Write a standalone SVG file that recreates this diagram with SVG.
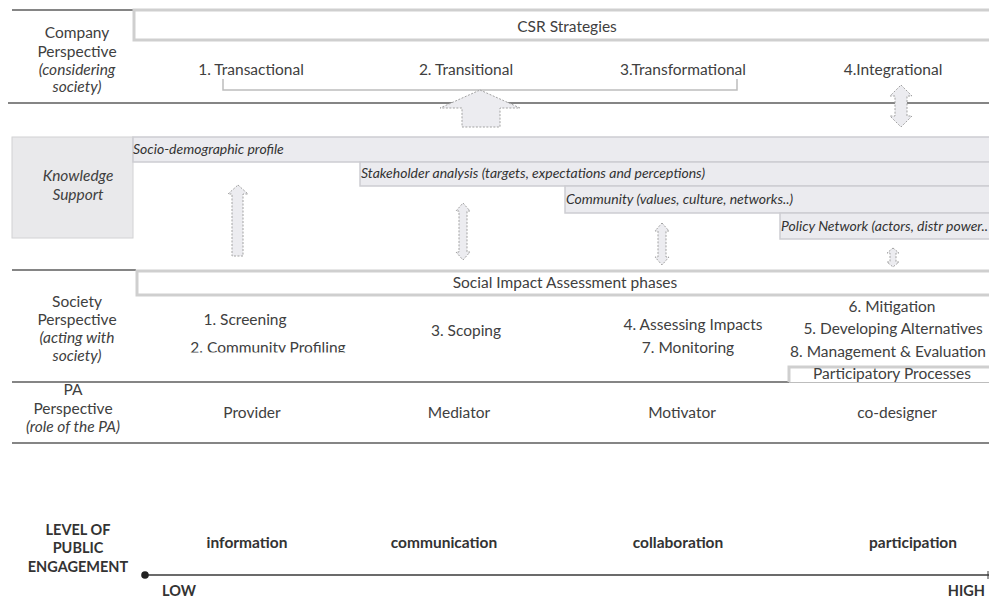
<svg xmlns="http://www.w3.org/2000/svg" width="989" height="598" viewBox="0 0 989 598">
  <style>
    text { font-family: Lato, "Liberation Sans", sans-serif; fill: #404040; }
    .lbl { font-size: 15.5px; text-anchor: middle; }
    .it { font-style: italic; }
    .cell { font-size: 15.5px; text-anchor: middle; }
    .bar-t { font-size: 14px; font-style: italic; fill: #333; }
    .eng { font-size: 15.5px; font-weight: bold; text-anchor: middle; fill: #333; }
    .eng-s { font-size: 14.5px; }
    .rule { stroke: #858585; stroke-width: 2; fill: none; }
    .frame { stroke: #cfcfcf; stroke-width: 3; fill: #fff; }
    .bar { fill: #ebebef; stroke: #cdcdd2; stroke-width: 1.5; }
    .arrow { fill: #ececf0; stroke: #a2a2a2; stroke-width: 1; stroke-dasharray: 2 1.5; }
  </style>
  <defs>
    <clipPath id="clipRow">
      <rect x="0" y="290" width="989" height="62.5"/>
    </clipPath>
  </defs>

  <rect width="989" height="598" fill="#fff"/>

  <!-- row rules -->
  <g id="rules">
    <line class="rule" x1="12" y1="10" x2="133" y2="10"/>
    <line class="rule" x1="8" y1="103" x2="989" y2="103"/>
    <line class="rule" x1="12" y1="270" x2="136" y2="270"/>
    <line class="rule" x1="12" y1="382" x2="789" y2="382"/>
    <line class="rule" x1="12" y1="443" x2="989" y2="443"/>
  </g>

  <!-- Company perspective -->
  <g id="company">
    <text class="lbl" x="77" y="38">Company</text>
    <text class="lbl" x="77" y="57">Perspective</text>
    <text class="lbl it" x="77" y="75">(considering</text>
    <text class="lbl it" x="77" y="92">society)</text>
  </g>

  <g id="csr">
    <path class="frame" d="M991 10 H134 V40 H991"/>
    <text class="cell" x="567" y="32">CSR Strategies</text>
  </g>

  <g id="strategies">
    <text class="cell" x="251" y="75">1. Transactional</text>
    <text class="cell" x="466" y="75">2. Transitional</text>
    <text class="cell" x="683" y="75">3.Transformational</text>
    <text class="cell" x="893" y="75">4.Integrational</text>
    <path d="M223 79 V90 H737 V79" fill="none" stroke="#bdbdbd" stroke-width="1.5"/>
  </g>

  <!-- Knowledge support -->
  <g id="knowledge">
    <rect x="12" y="137" width="121" height="101" fill="#e9e9eb" stroke="#d2d2d4" stroke-width="1"/>
    <text class="lbl it" x="78" y="181">Knowledge</text>
    <text class="lbl it" x="78" y="200">Support</text>
  </g>

  <g id="bars">
    <rect class="bar" x="133" y="137" width="860" height="25"/>
    <text class="bar-t" x="133" y="154">Socio-demographic profile</text>
    <rect class="bar" x="360" y="162" width="633" height="24"/>
    <text class="bar-t" x="361" y="178">Stakeholder analysis (targets, expectations and perceptions)</text>
    <rect class="bar" x="565" y="186" width="428" height="27"/>
    <text class="bar-t" x="566" y="204">Community (values, culture, networks..)</text>
    <rect class="bar" x="780" y="213" width="213" height="26"/>
    <text class="bar-t" x="781" y="231">Policy Network (actors, distr power..</text>
  </g>

  <!-- connectors -->
  <g id="connectors">
    <path class="arrow" d="M480 90 L520 108 H500 V127 H462 V108 H440 Z"/>
    <path class="arrow" d="M901 85 L912 96 H907 V116 H912 L901 127 L890 116 H895 V96 H890 Z"/>
    <path class="arrow" d="M238 185 L248 194 H243 V256 H232 V194 H228 Z"/>
    <path class="arrow" d="M463 203 L470 211 H467 V252 H470 L463 260 L456 252 H459 V211 H456 Z"/>
    <path class="arrow" d="M662 223 L669 231 H666 V257 H669 L662 265 L655 257 H658 V231 H655 Z"/>
    <path class="arrow" d="M893 248 L899 253 H896 V262 H899 L893 267 L887 262 H890 V253 H887 Z"/>
  </g>

  <!-- Society perspective -->
  <g id="society">
    <text class="lbl" x="77" y="307">Society</text>
    <text class="lbl" x="77" y="325">Perspective</text>
    <text class="lbl it" x="77" y="343">(acting with</text>
    <text class="lbl it" x="77" y="361">society)</text>
  </g>

  <g id="sia">
    <path class="frame" d="M991 271 H137 V295 H991"/>
    <text class="cell" x="565" y="288">Social Impact Assessment phases</text>
  </g>

  <g id="phases">
    <text class="cell" x="245" y="325">1. Screening</text>
    <text class="cell" x="268" y="353" clip-path="url(#clipRow)">2. Community Profiling</text>
    <text class="cell" x="466" y="336">3. Scoping</text>
    <text class="cell" x="693" y="330">4. Assessing Impacts</text>
    <text class="cell" x="688" y="353">7. Monitoring</text>
    <text class="cell" x="892" y="312">6. Mitigation</text>
    <text class="cell" x="893" y="334">5. Developing Alternatives</text>
    <text class="cell" x="888" y="357">8. Management &amp; Evaluation</text>
  </g>

  <g id="participatory">
    <path d="M991 367 H789 V382" fill="none" stroke="#cfcfcf" stroke-width="3"/>
    <text class="cell" x="892" y="379">Participatory Processes</text>
    <line x1="789" y1="382.5" x2="989" y2="382.5" stroke="#bdbdbd" stroke-width="1"/>
  </g>

  <!-- PA perspective -->
  <g id="pa">
    <text class="lbl" x="73" y="395">PA</text>
    <text class="lbl" x="73" y="414">Perspective</text>
    <text class="lbl it" x="73" y="432">(role of the PA)</text>
  </g>

  <g id="roles">
    <text class="cell" x="252" y="418">Provider</text>
    <text class="cell" x="459" y="418">Mediator</text>
    <text class="cell" x="682" y="418">Motivator</text>
    <text class="cell" x="897" y="418">co-designer</text>
  </g>

  <!-- engagement scale -->
  <g id="engagement">
    <text class="eng eng-s" x="78" y="535">LEVEL OF</text>
    <text class="eng eng-s" x="78" y="553">PUBLIC</text>
    <text class="eng eng-s" x="78" y="572">ENGAGEMENT</text>
    <text class="eng" x="247" y="548">information</text>
    <text class="eng" x="444" y="548">communication</text>
    <text class="eng" x="678" y="548">collaboration</text>
    <text class="eng" x="913" y="548">participation</text>
  </g>

  <g id="axis">
    <line x1="145" y1="575" x2="989" y2="575" stroke="#3a3a3a" stroke-width="1.5"/>
    <circle cx="145" cy="575" r="3.8" fill="#222"/>
    <line x1="988" y1="571" x2="988" y2="579" stroke="#3a3a3a" stroke-width="1"/>
    <text class="eng eng-s" x="179" y="596">LOW</text>
    <text class="eng eng-s" x="985" y="596" style="text-anchor:end">HIGH</text>
  </g>
</svg>
